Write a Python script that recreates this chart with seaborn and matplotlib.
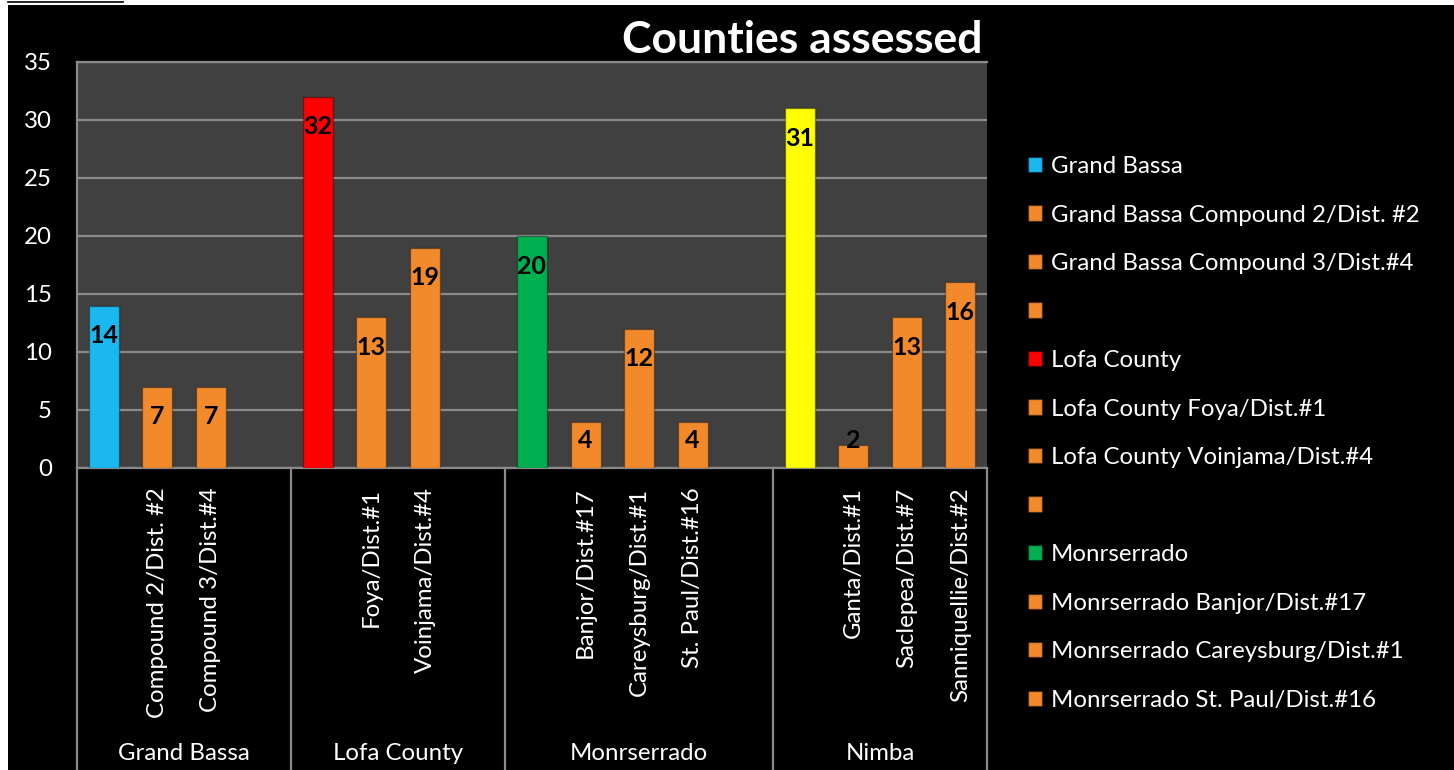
import numpy as np
import pandas as pd
import matplotlib
matplotlib.use("Agg")
import matplotlib.pyplot as plt
from matplotlib.patches import Patch, Rectangle
from matplotlib.lines import Line2D
import matplotlib.transforms as mtransforms
import seaborn as sns

# ---------------- data ----------------
counties = ["Grand Bassa", "Lofa County", "Monrserrado", "Nimba"]
county_values = [14, 32, 20, 31]
districts = [
    ["Compound 2/Dist. #2", "Compound 3/Dist.#4", ""],
    ["Foya/Dist.#1", "Voinjama/Dist.#4", ""],
    ["Banjor/Dist.#17", "Careysburg/Dist.#1", "St. Paul/Dist.#16", ""],
    ["Ganta/Dist.#1", "Saclepea/Dist.#7", "Sanniquellie/Dist.#2"],
]
district_values = [
    [7, 7, None],
    [13, 19, None],
    [4, 12, 4, None],
    [2, 13, 16],
]
county_colors = ["#1AB8EE", "#FF0000", "#00B050", "#FFFF00"]
district_color = "#F28A2C"
title = "Counties assessed"
y_ticks = [0, 5, 10, 15, 20, 25, 30, 35]
legend_entries_shown = 12

# ---------------- build table ----------------
rows = []
order = []
for ci, c in enumerate(counties):
    key = f"{c}|"
    order.append(key)
    rows.append(dict(key=key, county=c, district="", value=county_values[ci],
                     color=county_colors[ci], legend=c))
    for j, d in enumerate(districts[ci]):
        key = f"{c}|{d}|{j}"
        order.append(key)
        v = district_values[ci][j]
        rows.append(dict(key=key, county=c, district=d,
                         value=np.nan if v is None else v,
                         color=district_color,
                         legend=(f"{c} {d}" if d else "")))
df = pd.DataFrame(rows)
plot_df = df.dropna(subset=["value"])
palette = dict(zip(df["key"], df["color"]))

# ---------------- figure ----------------
W, H = 1454, 770
FS = 17.3
fig = plt.figure(figsize=(W / 100, H / 100), dpi=100, facecolor="white")
fig.patches.append(Rectangle((8 / W, 0), 1 - 8 / W, (H - 5) / H,
                             transform=fig.transFigure, facecolor="black",
                             edgecolor="none", zorder=-10))
fig.lines.append(Line2D([8 / W, 123 / W], [1 - 2 / H, 1 - 2 / H],
                        transform=fig.transFigure, color="black", lw=1.2,
                        zorder=-5))

plt.rcParams["font.family"] = ["Lato", "DejaVu Sans"]

ax = fig.add_axes([77 / W, (H - 468) / H, 910 / W, 406 / H])
ax.set_zorder(2)
ax.set_facecolor("#404040")

sns.barplot(data=plot_df, x="key", y="value", hue="key", order=order,
            palette=palette, saturation=1, width=0.56, legend=False, ax=ax,
            edgecolor="#00000050", linewidth=1.0, zorder=3)

ax.set_ylim(0, 35)
ax.set_xlim(-0.5, len(order) - 0.5)
ax.set_yticks(y_ticks)
ax.set_yticklabels([str(t) for t in y_ticks], color="white", fontsize=FS)
ax.tick_params(axis="y", length=0, pad=18)
ax.grid(axis="y", color="#8A8A8A", linewidth=1.6, zorder=1)
ax.grid(axis="x", visible=False)
ax.set_axisbelow(True)
for s in ["top", "right", "left", "bottom"]:
    ax.spines[s].set_color("#8A8A8A")
    ax.spines[s].set_linewidth(1.6)
ax.spines["right"].set_visible(False)
ax.set_xlabel("")
ax.set_ylabel("")

ax.set_xticks(range(len(order)))
ax.set_xticklabels(df["district"].tolist(), rotation=90, color="white",
                   fontsize=FS, va="top", ha="center")
ax.tick_params(axis="x", length=0, pad=14)

# data labels
for i, r in df.iterrows():
    if np.isnan(r["value"]):
        continue
    pos = order.index(r["key"])
    ax.text(pos, max(r["value"] - 2.6, 2.4), f"{int(r['value'])}",
            ha="center", va="center", fontsize=18, fontweight="bold",
            color="black", zorder=5)

# group separators and group labels
trans = mtransforms.blended_transform_factory(ax.transData, ax.transAxes)
bottom = -(H - 468) / 406
start = 0
bounds = [-0.5]
for ci, c in enumerate(counties):
    n = 1 + len(districts[ci])
    end = start + n
    bounds.append(end - 0.5)
    ax.text((start + end - 1) / 2, -(753 - 468) / 406, c, transform=trans,
            ha="center", va="center", color="white", fontsize=FS)
    start = end
for b in bounds:
    ax.plot([b, b], [0, bottom], transform=trans, color="#8A8A8A",
            lw=1.6, clip_on=False, zorder=2)

# title
fig.text(983 / W, 1 - 40 / H, title, ha="right", va="center",
         color="white", fontsize=32, fontweight="bold")

# legend (first entries, as in the source)
handles = [Patch(facecolor=c, edgecolor="#00000060") for c in df["color"][:legend_entries_shown]]
labels = df["legend"][:legend_entries_shown].tolist()
fig.legend(handles, labels, loc="upper left",
           bbox_to_anchor=(1028 / W, 1 - 156 / H), frameon=False,
           fontsize=FS, labelcolor="white", handlelength=0.6,
           handleheight=0.6, handletextpad=0.35, labelspacing=1.145,
           borderpad=0, borderaxespad=0)

fig.savefig("out.png", dpi=100, facecolor=fig.get_facecolor())
